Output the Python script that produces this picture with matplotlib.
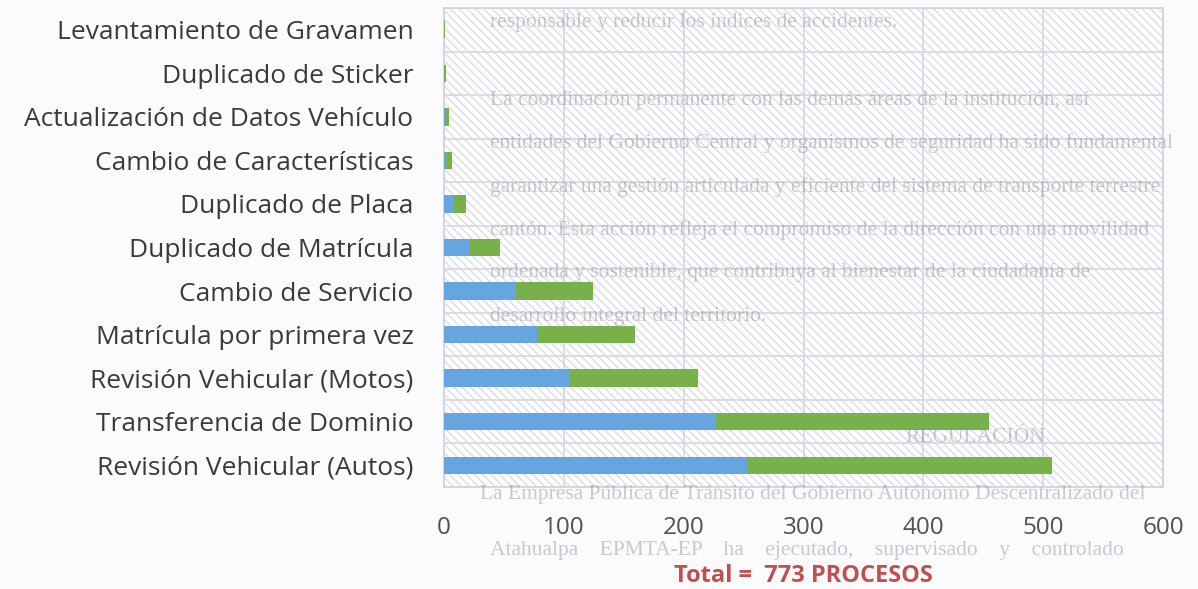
import matplotlib
matplotlib.use('Agg')
import matplotlib.pyplot as plt
import numpy as np

# categories, bottom to top as drawn
categories = ['Revisión Vehicular (Autos)', 'Transferencia de Dominio',
              'Revisión Vehicular (Motos)', 'Matrícula por primera vez',
              'Cambio de Servicio', 'Duplicado de Matrícula',
              'Duplicado de Placa', 'Cambio de Características',
              'Actualización de Datos Vehículo', 'Duplicado de Sticker',
              'Levantamiento de Gravamen']
serie_azul = [253, 227, 105, 78, 60, 22, 8, 2, 1, 0, 0]
serie_verde = [254, 228, 107, 81, 64, 25, 10, 5, 3, 2, 1]
x_ticks = [0, 100, 200, 300, 400, 500, 600]
total_label = 'Total =  773 PROCESOS'

# faint text of the scanned page behind the chart
page_lines = [
    (490, 22, 'responsable y reducir los índices de accidentes.'),
    (490, 100, 'La coordinación permanente con las demás áreas de la institución, así'),
    (490, 143, 'entidades del Gobierno Central y organismos de seguridad ha sido fundamental'),
    (490, 187, 'garantizar una gestión articulada y eficiente del sistema de transporte terrestre'),
    (490, 230, 'cantón. Esta acción refleja el compromiso de la dirección con una movilidad'),
    (490, 273, 'ordenada y sostenible, que contribuya al bienestar de la ciudadanía de'),
    (490, 316, 'desarrollo integral del territorio.'),
    (905, 438, 'REGULACIÓN'),
    (480, 494, 'La Empresa Pública de Tránsito del Gobierno Autónomo Descentralizado del'),
    (490, 551, 'Atahualpa    EPMTA-EP    ha    ejecutado,    supervisado    y    controlado'),
]

W, H = 1198, 589
fig = plt.figure(figsize=(W / 100, H / 100), dpi=100, facecolor='#fbfbfd')
ax = fig.add_axes([444 / W, 1 - 487 / H, 719 / W, 479 / H])
ax.set_facecolor('white')

y = np.arange(len(categories))
ax.barh(y, serie_azul, height=0.4, color='#67a5e0', zorder=3)
ax.barh(y, serie_verde, left=serie_azul, height=0.4, color='#78b04a', zorder=3)

# light diagonal pattern of the chart area
ax.fill_between([0, 600], -0.5, len(categories) - 0.5, facecolor='none',
                edgecolor='#dcdce6', hatch='\\\\\\\\', linewidth=0, zorder=1)

ax.set_xlim(0, 600)
ax.set_ylim(-0.5, len(categories) - 0.5)
ax.set_xticks(x_ticks)
ax.set_xticklabels([str(v) for v in x_ticks])
ax.set_yticks(y)
ax.set_yticklabels(categories)
ax.set_yticks(np.arange(-0.5, len(categories), 1), minor=True)
ax.tick_params(axis='y', which='both', length=0, pad=22, labelsize=19,
               labelcolor='#3a3a3a')
ax.tick_params(axis='x', length=0, pad=21, labelsize=17.5, labelcolor='#505050')
for lab in ax.get_yticklabels() + ax.get_xticklabels():
    lab.set_family('Open Sans')
ax.grid(axis='x', color='#d6d6e2', linewidth=1.2, zorder=2)
ax.grid(axis='y', which='minor', color='#d6d6e2', linewidth=1.2, zorder=2)
ax.grid(axis='y', which='major', visible=False)
for s in ax.spines.values():
    s.set_color('#d0d0dc')
    s.set_linewidth(1.2)

for px, py, txt in page_lines:
    fig.text(px / W, 1 - py / H, txt, fontsize=15.5, family='Liberation Serif',
             color='#8a8a98', alpha=0.45, va='center', ha='left', zorder=5)

fig.text(803 / W, 1 - 576 / H, total_label, fontsize=17, fontweight='bold',
         family='Open Sans', color='#c0504d', ha='center', va='center')

fig.savefig('out.png', dpi=100, facecolor=fig.get_facecolor())
